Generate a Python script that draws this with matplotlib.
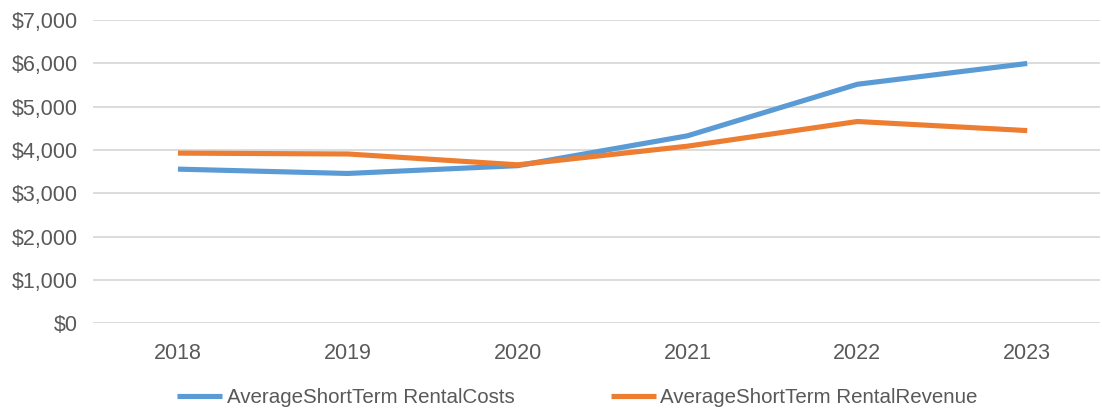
import matplotlib.pyplot as plt
from matplotlib.ticker import FuncFormatter

plt.rcParams['font.family'] = ['Liberation Sans', 'DejaVu Sans']

# data
years = ["2018", "2019", "2020", "2021", "2022", "2023"]
costs = [3560, 3460, 3640, 4330, 5520, 6000]
revenue = [3930, 3910, 3660, 4090, 4660, 4450]
labels = ["AverageShortTerm RentalCosts", "AverageShortTerm RentalRevenue"]

fig = plt.figure(figsize=(11.02, 4.11), dpi=100)
ax = fig.add_axes([0.0844, 0.2134, 0.914, 0.7375])

x = range(len(years))
ax.plot(x, costs, color="#5b9bd5", lw=3.7, solid_capstyle="butt", label=labels[0], zorder=3)
ax.plot(x, revenue, color="#ed7d31", lw=3.7, solid_capstyle="butt", label=labels[1], zorder=3)

ax.set_xlim(-0.5, 5.43)
ax.set_ylim(0, 7000)
ax.set_yticks(range(0, 7001, 1000))
ax.yaxis.set_major_formatter(FuncFormatter(lambda v, p: f"${v:,.0f}"))
ax.set_xticks(list(x))
ax.set_xticklabels(years)

ax.grid(axis="y", color="#d9d9d9", lw=1.3)
ax.set_axisbelow(True)
for s in ax.spines.values():
    s.set_visible(False)
ax.tick_params(axis="both", length=0, labelsize=15.5, colors="#595959")
ax.tick_params(axis="x", pad=14)
ax.tick_params(axis="y", pad=11)

fig.legend(loc="lower center", bbox_to_anchor=(0.524, -0.035), ncol=2, frameon=False,
           fontsize=14.8, labelcolor="#595959", handlelength=2.2, handletextpad=0.2,
           columnspacing=4.7)

fig.savefig("out.png", dpi=100)
